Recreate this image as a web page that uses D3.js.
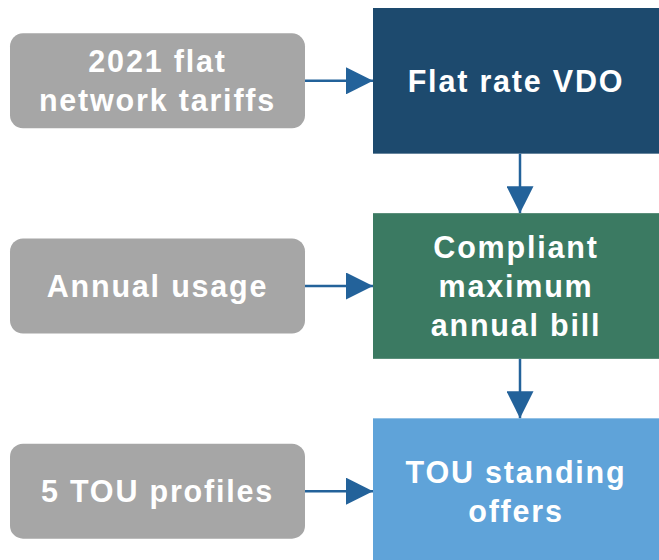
<!DOCTYPE html>
<html>
<head>
<meta charset="utf-8">
<script src="https://cdn.jsdelivr.net/npm/d3@7"></script>
<style>
  body { margin: 0; background: #fff; }
  svg text { font-family: "Liberation Sans", Arial, sans-serif; font-weight: bold; }
</style>
</head>
<body>
<svg id="chart" width="659" height="560"></svg>
<script>
// inputs on the left, steps on the right
const inputLabels = [["2021 flat", "network tariffs"], ["Annual usage"], ["5 TOU profiles"]];
const stepLabels = [["Flat rate VDO"], ["Compliant", "maximum", "annual bill"], ["TOU standing", "offers"]];
const stepColors = ["#1d4a6e", "#3b7a62", "#5fa3d9"];
const rows = [0, 1, 2];

const svg = d3.select("#chart");
const arrowColor = "#23629a";

let y = d3.scaleBand().domain(rows).range([8, 564]).paddingInner(0.29);
let x = d3.scaleOrdinal().domain(["input", "step"]).range([10, 373]);

const inputW = 295, inputH = 95;
const stepW = 286;

svg.append("defs").append("marker")
   .attr("id", "head")
   .attr("viewBox", "0 0 10 10")
   .attr("refX", 10).attr("refY", 5)
   .attr("markerUnits", "userSpaceOnUse")
   .attr("markerWidth", 27).attr("markerHeight", 27)
   .attr("orient", "auto")
   .append("path")
   .attr("d", "M0,0 L10,5 L0,10 Z")
   .attr("fill", arrowColor);

function addLines(sel, lines, cx, cy) {
    let lh = 39;
    let t = sel.append("text")
               .attr("text-anchor", "middle")
               .attr("fill", "#fff")
               .attr("font-size", 30.5)
               .attr("letter-spacing", 1.8);
    lines.forEach(function (s, i) {
        t.append("tspan")
         .attr("x", cx)
         .attr("y", cy + (i - (lines.length - 1) / 2) * lh + 11)
         .text(s);
    });
}

// left grey boxes
rows.forEach(function (r) {
    let cy = y(r) + y.bandwidth() / 2;
    svg.append("rect")
       .attr("x", x("input")).attr("y", cy - inputH / 2)
       .attr("width", inputW).attr("height", inputH)
       .attr("rx", 13)
       .attr("fill", "#a6a6a6");
    addLines(svg, inputLabels[r], x("input") + inputW / 2, cy);

    // arrow into the step box
    svg.append("line")
       .attr("x1", x("input") + inputW).attr("x2", x("step"))
       .attr("y1", cy).attr("y2", cy)
       .attr("stroke", arrowColor).attr("stroke-width", 2.5)
       .attr("marker-end", "url(#head)");
});

// right coloured boxes
rows.forEach(function (r) {
    svg.append("rect")
       .attr("x", x("step")).attr("y", y(r))
       .attr("width", stepW).attr("height", y.bandwidth())
       .attr("fill", stepColors[r]);
    addLines(svg, stepLabels[r], x("step") + stepW / 2, y(r) + y.bandwidth() / 2);

    if (r < rows.length - 1) {
        let cx = x("step") + stepW / 2 + 4;
        svg.append("line")
           .attr("x1", cx).attr("x2", cx)
           .attr("y1", y(r) + y.bandwidth()).attr("y2", y(r + 1))
           .attr("stroke", arrowColor).attr("stroke-width", 2.5)
           .attr("marker-end", "url(#head)");
    }
});
</script>
</body>
</html>
